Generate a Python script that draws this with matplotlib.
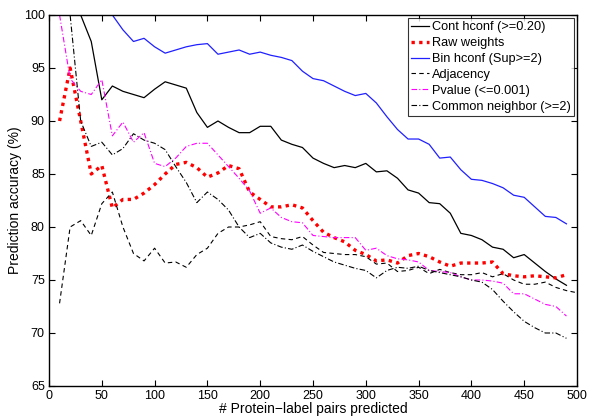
import matplotlib
matplotlib.use("Agg")
import matplotlib.pyplot as plt

plt.rcParams['font.family'] = ['Liberation Sans', 'DejaVu Sans']

x = list(range(10, 500, 10))
x_adj = list(range(10, 510, 10))

cont_hconf = [100, 100, 100, 97.5, 92.0, 93.3, 92.8, 92.5, 92.2, 93.0,
              93.7, 93.4, 93.1, 90.8, 89.4, 90.0, 89.4, 88.9, 88.9, 89.5,
              89.5, 88.2, 87.8, 87.5, 86.5, 86.0, 85.6, 85.8, 85.6, 86.0,
              85.2, 85.3, 84.6, 83.5, 83.2, 82.3, 82.2, 81.3, 79.4, 79.2,
              78.8, 78.1, 77.9, 77.1, 77.4, 76.6, 75.8, 75.1, 74.5]
raw_weights = [90.0, 95.0, 90.0, 85.0, 85.8, 81.8, 82.6, 82.6, 83.2, 84.0,
               85.0, 85.9, 86.1, 85.6, 84.7, 85.1, 85.8, 85.5, 83.3, 82.6,
               81.9, 81.9, 82.1, 81.8, 80.6, 79.5, 79.0, 78.6, 77.8, 77.4,
               76.8, 76.9, 76.6, 77.3, 77.5, 77.2, 76.7, 76.3, 76.6, 76.6,
               76.6, 76.7, 75.6, 75.4, 75.3, 75.4, 75.3, 75.2, 75.5]
bin_hconf = [100, 100, 100, 100, 100, 100, 98.6, 97.5, 97.8, 97.0,
             96.4, 96.7, 97.0, 97.2, 97.3, 96.3, 96.5, 96.7, 96.3, 96.5,
             96.2, 96.0, 95.7, 94.7, 94.0, 93.8, 93.3, 92.8, 92.4, 92.6,
             91.7, 90.4, 89.2, 88.3, 88.3, 87.8, 86.5, 86.6, 85.4, 84.5,
             84.4, 84.1, 83.7, 83.0, 82.8, 81.9, 81.0, 80.9, 80.3]
adjacency = [72.8, 80.0, 80.6, 79.2, 82.2, 83.3, 80.0, 77.5, 76.8, 78.0,
             76.6, 76.7, 76.2, 77.4, 78.0, 79.4, 80.0, 80.0, 80.2, 80.5,
             79.1, 78.9, 78.8, 79.1, 78.3, 77.6, 77.5, 77.4, 77.4, 77.2,
             76.5, 76.6, 75.8, 75.9, 76.2, 75.6, 76.0, 75.7, 75.5, 75.5,
             75.7, 75.3, 75.6, 75.0, 74.6, 74.6, 74.8, 74.3, 74.0, 73.8]
pvalue = [100, 94.0, 92.8, 92.5, 93.9, 88.6, 89.9, 88.0, 88.9, 86.0,
          85.7, 86.5, 87.6, 87.9, 87.9, 86.8, 85.7, 84.6, 83.4, 81.3,
          81.8, 80.9, 80.5, 80.4, 79.2, 79.1, 79.0, 79.0, 79.0, 77.8,
          78.0, 77.3, 77.0, 76.9, 76.7, 75.9, 75.8, 75.7, 75.3, 75.0,
          75.0, 74.9, 74.7, 73.7, 73.7, 73.2, 72.7, 72.5, 71.6]
common_neighbor = [100, 100, 90.0, 87.6, 88.0, 86.8, 87.4, 88.8, 88.2, 87.9,
                   87.3, 85.7, 84.2, 82.3, 83.3, 82.6, 81.6, 80.0, 79.0, 79.4,
                   78.5, 78.1, 77.9, 78.3, 77.7, 77.2, 76.7, 76.4, 76.1, 75.9,
                   75.2, 75.9, 76.2, 76.1, 76.3, 75.9, 75.7, 75.5, 75.3, 75.0,
                   74.8, 74.1, 73.0, 72.0, 71.1, 70.5, 70.0, 70.0, 69.5]

labels = ['Cont hconf (>=0.20)', 'Raw weights', 'Bin hconf (Sup>=2)',
          'Adjacency', 'Pvalue (<=0.001)', 'Common neighbor (>=2)']
xticks = list(range(0, 501, 50))
yticks = list(range(65, 101, 5))

fig = plt.figure(figsize=(5.89, 4.16), dpi=100)
ax = fig.add_axes([49/589, 1-386/416, (577-49)/589, (386-15)/416])

ax.plot(x, cont_hconf, color='black', lw=0.9, ls='-', label=labels[0])
ax.plot(x, raw_weights, color='red', lw=2.4, ls=(0, (1, 1.3)), label=labels[1])
ax.plot(x, bin_hconf, color='#2020ff', lw=0.9, ls='-', label=labels[2])
ax.plot(x_adj, adjacency, color='black', lw=0.8, ls=(0, (4, 3)), label=labels[3], clip_on=False)
ax.plot(x, pvalue, color='magenta', lw=0.8, ls=(0, (5, 2, 1, 2)), label=labels[4])
ax.plot(x, common_neighbor, color='black', lw=0.8, ls=(0, (5, 2, 1, 2)), label=labels[5])

ax.set_xlim(0, 500)
ax.set_ylim(65, 100)
ax.set_xticks(xticks)
ax.set_yticks(yticks)
ax.tick_params(direction='in', top=True, right=True, length=4, width=0.8,
               labelsize=9, pad=3)
for s in ax.spines.values():
    s.set_linewidth(1.0)
ax.set_xlabel('# Protein\u2212label pairs predicted', fontsize=10, labelpad=0)
ax.set_ylabel('Prediction accuracy (%)', fontsize=10, labelpad=1)

leg = ax.legend(loc='upper right', fontsize=9.2, frameon=True, fancybox=False,
                edgecolor='black', handlelength=1.4, handletextpad=0.2,
                borderpad=0.25, labelspacing=0.3, borderaxespad=0.25)
leg.get_frame().set_linewidth(0.8)

fig.savefig('out.png', dpi=100)
